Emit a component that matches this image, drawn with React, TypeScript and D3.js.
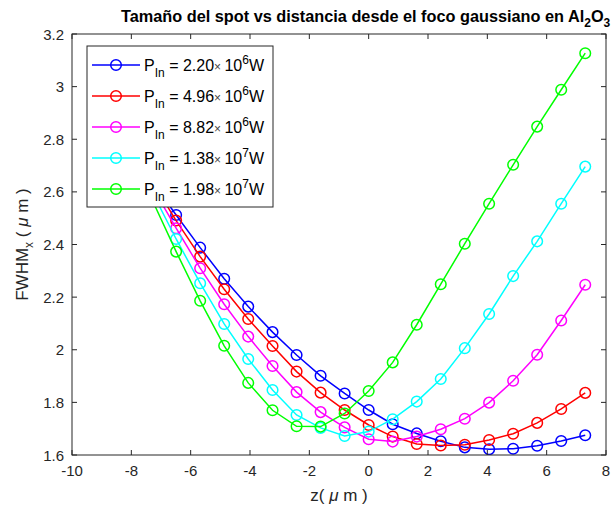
import React from "react";
import * as d3 from "d3";

// Axial positions (µm) of the sampled planes
const zPositions = [-7.3, -6.49, -5.68, -4.87, -4.06, -3.24, -2.43, -1.62, -0.81, 0, 0.81, 1.62, 2.43, 3.24, 4.06, 4.87, 5.68, 6.49, 7.3];

// FWHM_x (µm) for each input power
const fwhmP1 = [2.64, 2.512, 2.388, 2.27, 2.164, 2.067, 1.98, 1.901, 1.834, 1.771, 1.717, 1.682, 1.652, 1.629, 1.622, 1.624, 1.635, 1.653, 1.675];
const fwhmP2 = [2.64, 2.491, 2.354, 2.23, 2.117, 2.014, 1.917, 1.837, 1.771, 1.714, 1.67, 1.642, 1.636, 1.639, 1.657, 1.681, 1.722, 1.775, 1.836];
const fwhmP3 = [2.62, 2.462, 2.31, 2.173, 2.05, 1.938, 1.839, 1.763, 1.705, 1.66, 1.651, 1.67, 1.698, 1.738, 1.799, 1.882, 1.981, 2.111, 2.247];
const fwhmP4 = [2.6, 2.421, 2.253, 2.098, 1.965, 1.847, 1.752, 1.703, 1.672, 1.689, 1.736, 1.803, 1.889, 2.006, 2.136, 2.28, 2.412, 2.555, 2.696];
const fwhmP5 = [2.57, 2.373, 2.186, 2.015, 1.874, 1.77, 1.709, 1.708, 1.758, 1.843, 1.952, 2.095, 2.249, 2.403, 2.555, 2.703, 2.848, 2.988, 3.127];

// Legend power labels: mantissa and exponent
const powerMantissa = ["2.20", "4.96", "8.82", "1.38", "1.98"];
const powerExponent = ["6", "6", "6", "7", "7"];
const seriesColors = ["#0000ff", "#ff0000", "#ff00ff", "#00ffff", "#00ff00"];

const xTicks = [-10, -8, -6, -4, -2, 0, 2, 4, 6, 8];
const yTicks = [1.6, 1.8, 2, 2.2, 2.4, 2.6, 2.8, 3, 3.2];

const W = 613;
const H = 512;
const left = 72;
const right = 606;
const top = 34;
const bottom = 455;
const axisColor = "#262626";
const font = "'Liberation Sans', Arial, Helvetica, sans-serif";

export default function App() {
  const x = d3.scaleLinear().domain([-10, 8]).range([left, right]);
  const y = d3.scaleLinear().domain([1.6, 3.2]).range([bottom, top]);
  const series = [fwhmP1, fwhmP2, fwhmP3, fwhmP4, fwhmP5];
  const line = d3
    .line<number>()
    .x((_, i) => x(zPositions[i]))
    .y((d) => y(d));
  const tickLen = 5;

  const legX = 87;
  const legY = 46;
  const legW = 186;
  const legH = 161;
  const rowGap = 31;
  const rowY0 = 65;

  return (
    <div style={{ position: "fixed", left: 0, top: 0 }}>
      <svg width={W} height={H} style={{ display: "block", background: "#fff" }} fontFamily={font}>
        <defs>
          <clipPath id="plotClip">
            <rect x={left} y={top} width={right - left} height={bottom - top} />
          </clipPath>
        </defs>
        <rect x={0} y={0} width={W} height={H} fill="#fff" />

        {/* data */}
        <g clipPath="url(#plotClip)">
          {series.map((vals, si) => (
            <g key={si}>
              <path d={line(vals) || ""} fill="none" stroke={seriesColors[si]} strokeWidth={1.5} />
              {vals.map((v, i) => (
                <circle
                  key={i}
                  cx={x(zPositions[i])}
                  cy={y(v)}
                  r={5.3}
                  fill="none"
                  stroke={seriesColors[si]}
                  strokeWidth={1.5}
                />
              ))}
            </g>
          ))}
        </g>

        {/* axes box and ticks */}
        <rect x={left} y={top} width={right - left} height={bottom - top} fill="none" stroke={axisColor} strokeWidth={1} />
        {xTicks.map((t) => (
          <g key={"x" + t}>
            <line x1={x(t)} x2={x(t)} y1={bottom} y2={bottom - tickLen} stroke={axisColor} />
            <line x1={x(t)} x2={x(t)} y1={top} y2={top + tickLen} stroke={axisColor} />
            <text x={x(t)} y={bottom + 21} textAnchor="middle" fontSize={15} fill={axisColor}>
              {t}
            </text>
          </g>
        ))}
        {yTicks.map((t) => (
          <g key={"y" + t}>
            <line x1={left} x2={left + tickLen} y1={y(t)} y2={y(t)} stroke={axisColor} />
            <line x1={right} x2={right - tickLen} y1={y(t)} y2={y(t)} stroke={axisColor} />
            <text x={left - 8} y={y(t) + 5.5} textAnchor="end" fontSize={15} fill={axisColor}>
              {d3.format("")(t)}
            </text>
          </g>
        ))}

        {/* axis labels */}
        <text x={(left + right) / 2} y={501} textAnchor="middle" fontSize={17} fill={axisColor}>
          z(<tspan fontStyle="italic">{" μ "}</tspan>m )
        </text>
        <text
          transform={`translate(28,${(top + bottom) / 2}) rotate(-90)`}
          textAnchor="middle"
          fontSize={17}
          fill={axisColor}
        >
          FWHM<tspan dy={5} fontSize={12}>x</tspan>
          <tspan dy={-5}>{" ( "}</tspan>
          <tspan fontStyle="italic">{"μ "}</tspan>
          <tspan>m )</tspan>
        </text>

        {/* title */}
        <text x={121} y={22} fontSize={16.3} fontWeight="bold" fill="#000">
          Tamaño del spot vs distancia desde el foco gaussiano en Al<tspan dy={5} fontSize={12}>2</tspan>
          <tspan dy={-5}>O</tspan>
          <tspan dy={5} fontSize={12}>3</tspan>
        </text>

        {/* legend */}
        <rect x={legX} y={legY} width={legW} height={legH} fill="#fff" stroke={axisColor} strokeWidth={1} />
        {powerMantissa.map((m, i) => {
          const ry = rowY0 + i * rowGap;
          return (
            <g key={"leg" + i}>
              <line x1={92} x2={140} y1={ry} y2={ry} stroke={seriesColors[i]} strokeWidth={1.5} />
              <circle cx={116} cy={ry} r={5.3} fill="none" stroke={seriesColors[i]} strokeWidth={1.5} />
              <text x={144} y={ry + 5.5} fontSize={16} fill="#000">
                P<tspan dy={6} fontSize={12}>In</tspan>
                <tspan dy={-6}>{" = " + m}</tspan>
                <tspan fontSize={12} fill="#444">{"× "}</tspan>
                <tspan>{" 10"}</tspan>
                <tspan dy={-7} fontSize={12}>{powerExponent[i]}</tspan>
                <tspan dy={7}>W</tspan>
              </text>
            </g>
          );
        })}
      </svg>
    </div>
  );
}
